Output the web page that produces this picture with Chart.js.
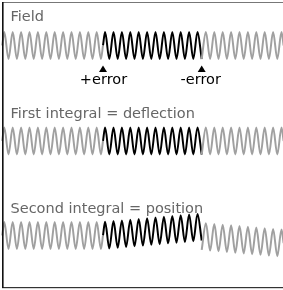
<!DOCTYPE html>
<html><head><meta charset="utf-8">
<script src="https://cdn.jsdelivr.net/npm/chart.js@4/dist/chart.umd.min.js"></script>
<style>html,body{margin:0;padding:0;background:#fff;overflow:hidden}canvas{display:block}</style>
</head><body>
<canvas id="c" width="283" height="290"></canvas>
<script>
// ---- text ----
const panelLabels = ['Field', 'First integral = deflection', 'Second integral = position'];
const errorLabels = ['+error', '-error'];
// x unit = half-cycle index of the oscillation; error switched on / off here
const errorPositions = [23.5, 47];

// ---- x positions (half-cycle index) of each segment ----
const xBefore = [-0.5,0,1,2,3,4,5,6,7,8,9,10,11,12,13,14,15,16,17,18,19,20,21,22,23,23.5];
const xError  = [23.5,24,25,26,27,28,29,30,31,32,33,34,35,36,37,38,39,40,41,42,43,44,45,46,47];
const xAfter  = [47,48,49,50,51,52,53,54,55,56,57,58,59,60,61,62,63,64,65,66,66.5];

// ---- Field (values in units of wave amplitude) ----
const fieldBefore = [0,1,-1,1,-1,1,-1,1,-1,1,-1,1,-1,1,-1,1,-1,1,-1,1,-1,1,-1,1,-1,0];
const fieldError  = [0,1,-1,1,-1,1,-1,1,-1,1,-1,1,-1,1,-1,1,-1,1,-1,1,-1,1,-1,1,-1];
const fieldAfter  = [-1,1,-1,1,-1,1,-1,1,-1,1,-1,1,-1,1,-1,1,-1,1,-1,1,0];

// ---- First integral = deflection ----
const deflBefore = [0,1,-1,1,-1,1,-1,1,-1,1,-1,1,-1,1,-1,1,-1,1,-1,1,-1,1,-1,1,-1,0];
const deflError  = [0,1,-1,1,-1,1,-1,1,-1,1,-1,1,-1,1,-1,1,-1,1,-1,1,-1,1,-1,1,-1];
const deflAfter  = [-1,1,-1,1,-1,1,-1,1,-1,1,-1,1,-1,1,-1,1,-1,1,-1,1,0];

// ---- Second integral = position ----
const posBefore = [0,1,-1,1,-1,1,-1,1,-1,1,-1,1,-1,1,-1,1,-1,1,-1,1,-1,1,-1,1,-1,0];
const posError  = [0,1.01,-0.96,1.07,-0.91,1.12,-0.85,1.17,-0.80,1.23,-0.75,1.28,-0.69,1.34,-0.64,1.39,-0.58,1.44,-0.53,1.50,-0.48,1.55,-0.42,1.60,-0.37];
const posAfter  = [-1.07,0.90,-1.12,0.85,-1.17,0.80,-1.23,0.75,-1.28,0.70,-1.33,0.65,-1.38,0.59,-1.43,0.54,-1.48,0.49,-1.53,0.44,-0.56];

const GRAY = '#a0a0a0', BLACK = '#000000';
function pts(xs, ys){ return xs.map((x,i)=>({x:x, y:ys[i]})); }
function ds(xs, ys, axis, color){
  return {data: pts(xs, ys), yAxisID: axis, borderColor: color, borderWidth: 2,
          pointRadius: 0, fill: false, cubicInterpolationMode: 'monotone', clip: 0};
}

const decor = {
  id: 'decor',
  afterDatasetsDraw(chart){
    const ctx = chart.ctx, xs = chart.scales.x;
    ctx.save();
    // frame
    ctx.fillStyle = '#777'; ctx.fillRect(2, 2, 281, 1);
    ctx.fillStyle = '#333'; ctx.fillRect(2, 287, 281, 1.2);
    ctx.fillStyle = '#111'; ctx.fillRect(2, 2, 1.6, 286);
    // panel labels
    ctx.font = '14.5px "DejaVu Sans"';
    ctx.fillStyle = '#666666';
    ctx.textAlign = 'left'; ctx.textBaseline = 'alphabetic';
    const baselines = [20.5, 117.5, 212.5];
    panelLabels.forEach((t,i)=> ctx.fillText(t, 10.5, baselines[i]));
    // error markers
    ctx.fillStyle = '#000';
    ctx.textAlign = 'center';
    errorPositions.forEach((p,i)=>{
      const px = xs.getPixelForValue(p);
      ctx.beginPath();
      ctx.moveTo(px, 65.5); ctx.lineTo(px+4, 72); ctx.lineTo(px-4, 72); ctx.closePath();
      ctx.fill();
      ctx.fillText(errorLabels[i], px + (i===0?0.5:-1), 83.5);
    });
    ctx.restore();
  }
};

new Chart(document.getElementById('c'), {
  type: 'line',
  data: { datasets: [
    ds(xBefore, fieldBefore, 'yF', GRAY), ds(xAfter, fieldAfter, 'yF', GRAY),
    ds(xBefore, deflBefore, 'yD', GRAY), ds(xAfter, deflAfter, 'yD', GRAY),
    ds(xBefore, posBefore, 'yP', GRAY), ds(xAfter, posAfter, 'yP', GRAY),
    ds(xError, fieldError, 'yF', BLACK), ds(xError, deflError, 'yD', BLACK), ds(xError, posError, 'yP', BLACK)
  ]},
  options: {
    responsive: false, devicePixelRatio: 1, animation: false,
    layout: { padding: 0 },
    plugins: { legend: {display:false}, tooltip: {enabled:false}, title: {display:false} },
    events: [],
    scales: {
      x:  { type: 'linear', display: false, min: -1.024, max: 66.357 },
      yF: { type: 'linear', display: false, min: -18.111, max: 3.370 },
      yD: { type: 'linear', display: false, min: -11.037, max: 10.444 },
      yP: { type: 'linear', display: false, min: -4.037, max: 17.444 }
    }
  },
  plugins: [decor]
});
</script>
</body></html>
